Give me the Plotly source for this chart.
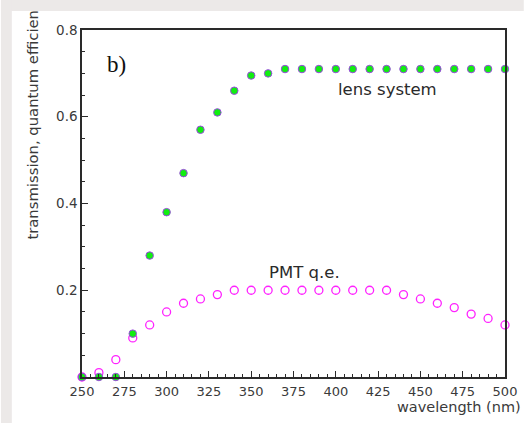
import plotly.graph_objects as go

# Wavelength grid (nm)
wavelength = [250, 260, 270, 280, 290, 300, 310, 320, 330, 340, 350, 360, 370,
              380, 390, 400, 410, 420, 430, 440, 450, 460, 470, 480, 490, 500]

# Transmission of the lens system
lens_transmission = [0.0, 0.0, 0.0, 0.10, 0.28, 0.38, 0.47, 0.57, 0.61, 0.66, 0.695, 0.70, 0.71,
                     0.71, 0.71, 0.71, 0.71, 0.71, 0.71, 0.71, 0.71, 0.71, 0.71, 0.71, 0.71, 0.71]

# Photomultiplier quantum efficiency
pmt_qe = [0.0, 0.01, 0.04, 0.09, 0.12, 0.15, 0.17, 0.18, 0.19, 0.20, 0.20, 0.20, 0.20,
          0.20, 0.20, 0.20, 0.20, 0.20, 0.20, 0.19, 0.18, 0.17, 0.16, 0.145, 0.135, 0.12]

x_ticks = [250, 275, 300, 325, 350, 375, 400, 425, 450, 475, 500]
y_ticks = [0.2, 0.4, 0.6, 0.8]

W, H = 529, 423
L, R, T, B = 82, 19, 30, 46
pw, ph = W - L - R, H - T - B


def px_x(p):
    return (p - L) / pw


def px_y(p):
    return (H - B - p) / ph


FONT = "DejaVu Sans"
INK = "#3a3a3a"
AXIS = "#2a2a2a"

fig = go.Figure()

fig.add_trace(go.Scatter(
    x=wavelength, y=pmt_qe, mode="markers", name="PMT q.e.",
    marker=dict(symbol="circle-open", size=8, color="#ff22ff",
                line=dict(color="#ff22ff", width=1.3)),
    cliponaxis=False, showlegend=False,
))
fig.add_trace(go.Scatter(
    x=wavelength, y=lens_transmission, mode="markers", name="lens system",
    marker=dict(symbol="circle", size=7.5, color="#11ee11",
                line=dict(color="#9a48e0", width=1)),
    cliponaxis=False, showlegend=False,
))

fig.update_layout(
    width=W, height=H,
    margin=dict(l=L, r=R, t=T, b=B, pad=0),
    paper_bgcolor="#ffffff",
    plot_bgcolor="#ffffff",
    font=dict(family=FONT, size=13, color=INK),
    xaxis=dict(
        range=[250, 500], tickmode="array", tickvals=x_ticks,
        ticktext=[str(v) for v in x_ticks],
        ticks="inside", ticklen=6, tickwidth=1.2, tickcolor=AXIS,
        ticklabelstandoff=2,
        minor=dict(dtick=5, tick0=250, ticks="inside", ticklen=3,
                   tickwidth=1, tickcolor=AXIS),
        showline=True, linecolor=AXIS, linewidth=1.5, mirror=True,
        showgrid=False, zeroline=False,
        tickfont=dict(family=FONT, size=13, color=INK),
    ),
    yaxis=dict(
        range=[0, 0.8], tickmode="array", tickvals=y_ticks,
        ticktext=["%.1f" % v for v in y_ticks],
        ticks="inside", ticklen=6, tickwidth=1.2, tickcolor=AXIS,
        minor=dict(dtick=0.05, tick0=0, ticks="inside", ticklen=3,
                   tickwidth=1, tickcolor=AXIS),
        showline=True, linecolor=AXIS, linewidth=1.5, mirror=True,
        showgrid=False, zeroline=False,
        tickfont=dict(family=FONT, size=13.5, color=INK),
    ),
    shapes=[
        # grey frame along the top and left edges of the page
        dict(type="rect", xref="paper", yref="paper", layer="below",
             x0=px_x(0), x1=px_x(W), y0=px_y(11), y1=px_y(0),
             fillcolor="#ece9e8", line=dict(width=0)),
        dict(type="rect", xref="paper", yref="paper", layer="below",
             x0=px_x(0), x1=px_x(11), y0=px_y(H), y1=px_y(0),
             fillcolor="#ece9e8", line=dict(width=0)),
    ],
    annotations=[
        dict(text="b)", xref="x", yref="y", x=263.5, y=0.72,
             xanchor="left", yanchor="middle", showarrow=False,
             font=dict(family="Liberation Serif", size=23, color="#111111")),
        dict(text="lens system", xref="x", yref="y", x=430.5, y=0.662,
             xanchor="center", yanchor="middle", showarrow=False,
             font=dict(family=FONT, size=16.5, color="#2a2a2a")),
        dict(text="PMT q.e.", xref="x", yref="y", x=381.5, y=0.242,
             xanchor="center", yanchor="middle", showarrow=False,
             font=dict(family=FONT, size=16.5, color="#2a2a2a")),
        dict(text="wavelength (nm)", xref="paper", yref="paper",
             x=px_x(527), y=px_y(398), xanchor="right", yanchor="top",
             borderpad=0, showarrow=False,
             font=dict(family=FONT, size=14.5, color=INK)),
        dict(text="transmission, quantum efficien", xref="paper", yref="paper",
             x=px_x(31), y=px_y(242), xanchor="center", yanchor="bottom",
             textangle=-90, showarrow=False,
             font=dict(family=FONT, size=14.8, color=INK)),
    ],
)

fig.write_html("out.html")
